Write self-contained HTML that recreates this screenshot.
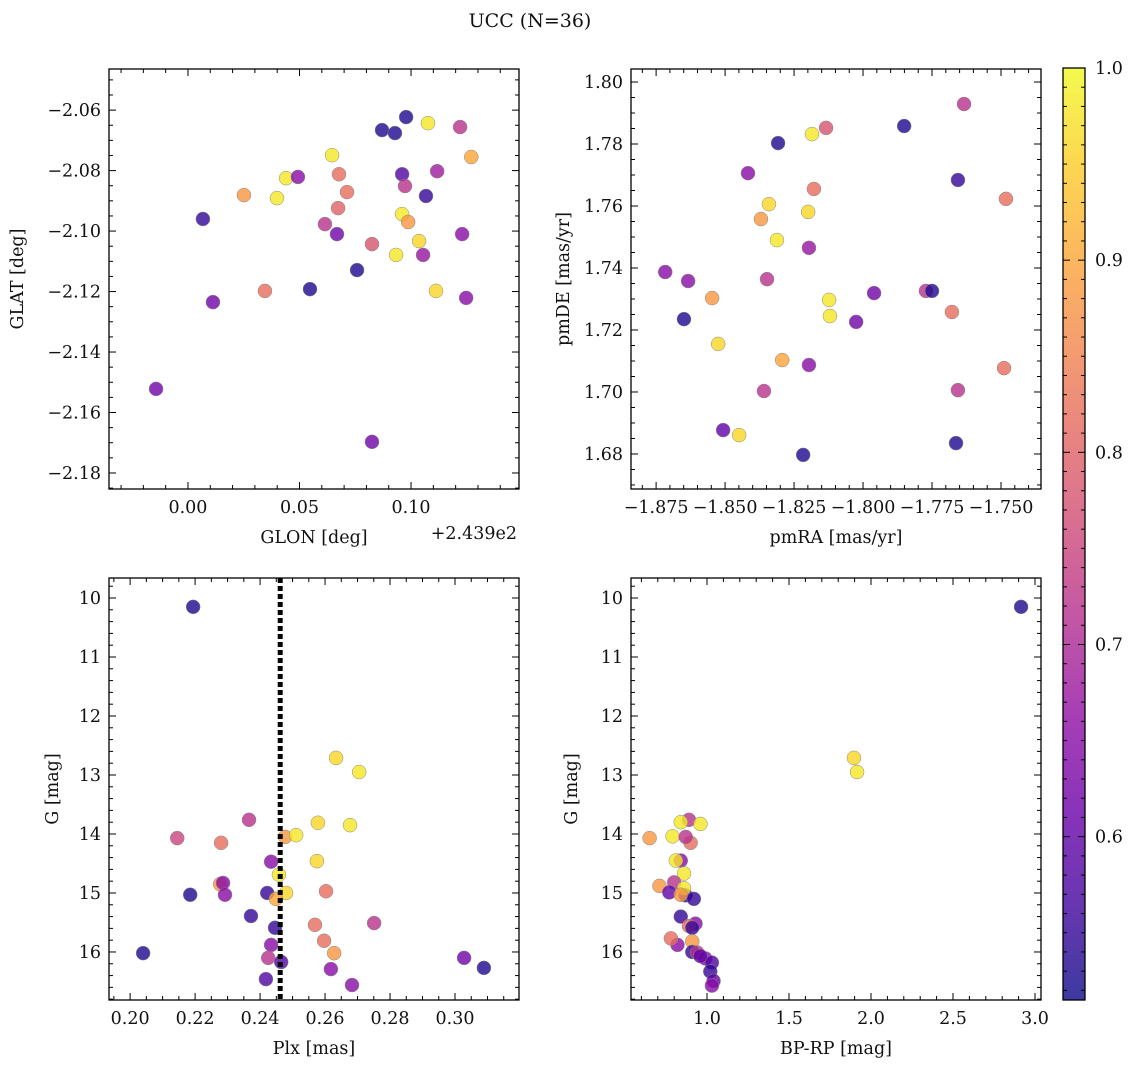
<!DOCTYPE html>
<html><head><meta charset="utf-8">
<style>
body{margin:0;background:#fff;}
svg text{font-family:"DejaVu Serif","Liberation Serif",serif;fill:#111;}
</style></head>
<body>
<svg id="fig" width="1136" height="1068" viewBox="0 0 1136 1068" xmlns="http://www.w3.org/2000/svg">
<rect width="1136" height="1068" fill="#fff"/>
<text x="530" y="27" font-size="19" text-anchor="middle">UCC (N=36)</text>
<defs>
<linearGradient id="cbgrad" x1="0" y1="1" x2="0" y2="0">
<stop offset="0" stop-color="#0d0887"/><stop offset="0.1" stop-color="#41049d"/><stop offset="0.2" stop-color="#6a00a8"/><stop offset="0.3" stop-color="#8f0da4"/><stop offset="0.4" stop-color="#b12a90"/><stop offset="0.5" stop-color="#cc4778"/><stop offset="0.6" stop-color="#e16462"/><stop offset="0.7" stop-color="#f2844b"/><stop offset="0.8" stop-color="#fca636"/><stop offset="0.9" stop-color="#fcce25"/><stop offset="1" stop-color="#f0f921"/>
</linearGradient>
</defs>
<g id="layer"></g>
</svg>
<script>
const glon=[0.0978,0.087,0.0928,0.1076,0.122,0.0646,0.127,0.044,0.0493,0.0677,0.096,0.1117,0.0713,0.0973,0.0251,0.0399,0.1067,0.0673,0.0067,0.096,0.0987,0.0614,0.0668,0.1229,0.1036,0.0825,0.0933,0.1054,0.0758,0.0345,0.0547,0.1112,0.0112,0.1247,-0.0143,0.0825];
const glat=[-2.0623,-2.0666,-2.0676,-2.0643,-2.0656,-2.0749,-2.0755,-2.0825,-2.0821,-2.0812,-2.0812,-2.0802,-2.0871,-2.0851,-2.0881,-2.0891,-2.0884,-2.0924,-2.096,-2.0944,-2.097,-2.0977,-2.101,-2.101,-2.1033,-2.1043,-2.1079,-2.1079,-2.1129,-2.1198,-2.1192,-2.1198,-2.1235,-2.1221,-2.1522,-2.1697];
const probA=[0.53,0.53,0.53,0.98,0.72,0.98,0.9,0.98,0.65,0.82,0.58,0.68,0.82,0.72,0.88,0.98,0.55,0.8,0.55,0.98,0.88,0.72,0.62,0.65,0.96,0.78,0.98,0.67,0.53,0.82,0.53,0.96,0.62,0.65,0.62,0.62];
const pmra=[-1.7634,-1.7851,-1.8134,-1.8185,-1.8308,-1.8417,-1.7656,-1.8178,-1.8341,-1.7482,-1.8199,-1.8370,-1.8312,-1.8196,-1.8717,-1.8634,-1.8348,-1.8547,-1.8123,-1.7960,-1.7772,-1.7750,-1.8649,-1.8120,-1.8025,-1.7678,-1.8525,-1.8293,-1.8196,-1.7489,-1.8359,-1.7656,-1.8507,-1.8449,-1.7663,-1.8217];
const pmde=[1.7929,1.7858,1.7852,1.7832,1.7803,1.7706,1.7684,1.7655,1.7606,1.7623,1.7581,1.7558,1.749,1.7465,1.7387,1.7358,1.7364,1.7303,1.7297,1.7319,1.7326,1.7326,1.7235,1.7245,1.7226,1.7258,1.7155,1.7103,1.7087,1.7077,1.7003,1.7006,1.6877,1.6861,1.6835,1.6797];
const probB=[0.72,0.53,0.78,0.98,0.53,0.65,0.55,0.82,0.96,0.82,0.96,0.88,0.98,0.67,0.65,0.65,0.72,0.88,0.98,0.62,0.72,0.53,0.53,0.98,0.62,0.82,0.96,0.9,0.65,0.82,0.72,0.72,0.6,0.96,0.53,0.53];
const plx=[0.2194,0.2634,0.2705,0.2366,0.2578,0.2677,0.2145,0.2477,0.2511,0.228,0.2575,0.2434,0.2458,0.2277,0.2286,0.2422,0.248,0.2603,0.2292,0.2185,0.2449,0.2372,0.2569,0.2751,0.2446,0.2597,0.2434,0.204,0.2628,0.2425,0.3028,0.2465,0.2618,0.3089,0.2418,0.2683];
const gmagC=[10.15,12.71,12.95,13.76,13.81,13.85,14.07,14.05,14.02,14.15,14.46,14.47,14.69,14.85,14.83,15.0,15.0,14.97,15.03,15.03,15.1,15.39,15.54,15.51,15.59,15.81,15.88,16.02,16.02,16.1,16.1,16.17,16.29,16.27,16.46,16.56];
const probC=[0.53,0.96,0.98,0.72,0.96,0.98,0.75,0.88,0.98,0.82,0.96,0.65,0.98,0.88,0.65,0.55,0.96,0.82,0.65,0.53,0.9,0.55,0.82,0.72,0.55,0.82,0.65,0.53,0.88,0.72,0.62,0.58,0.65,0.53,0.58,0.65];
const plxLine=0.2462;
const bprp=[2.915,1.896,1.915,0.89,0.84,0.96,0.65,0.79,0.90,0.87,0.84,0.81,0.86,0.80,0.71,0.77,0.87,0.86,0.84,0.92,0.93,0.84,0.89,0.91,0.82,0.78,0.91,0.91,0.94,0.99,0.96,1.03,1.02,1.04,1.03];
const gmagD=[10.15,12.71,12.95,13.76,13.80,13.83,14.07,14.04,14.15,14.05,14.45,14.45,14.67,14.82,14.88,14.99,15.04,14.92,15.03,15.10,15.52,15.40,15.56,15.59,15.88,15.77,15.82,16.00,16.01,16.11,16.07,16.18,16.33,16.49,16.57];
const probD=[0.53,0.96,0.98,0.72,0.98,0.98,0.88,0.98,0.82,0.72,0.65,0.98,0.98,0.72,0.88,0.6,0.55,0.98,0.88,0.55,0.65,0.55,0.82,0.55,0.65,0.82,0.88,0.55,0.72,0.65,0.6,0.58,0.55,0.6,0.65];
const cbTicks=[0.6,0.7,0.8,0.9,1.0];

const NS="http://www.w3.org/2000/svg";
const layer=document.getElementById('layer');
const FS=17.5;
function el(tag,attrs,parent){const e=document.createElementNS(NS,tag);for(const k in attrs)e.setAttribute(k,attrs[k]);(parent||layer).appendChild(e);return e;}
const stops=[[0,[13,8,135]],[0.1,[65,4,157]],[0.2,[106,0,168]],[0.3,[143,13,164]],[0.4,[177,42,144]],[0.5,[204,71,120]],[0.6,[225,100,98]],[0.7,[242,132,75]],[0.8,[252,166,54]],[0.9,[252,206,37]],[1,[240,249,33]]];
const cMin=0.515,cMax=1.0;
function cmap(v){let t=(v-cMin)/(cMax-cMin);t=Math.max(0,Math.min(1,t));for(let i=1;i<stops.length;i++){if(t<=stops[i][0]){const a=stops[i-1],b=stops[i];const f=(t-a[0])/(b[0]-a[0]);const c=a[1].map((x,j)=>Math.round(x+(b[1][j]-x)*f));return `rgb(${c[0]},${c[1]},${c[2]})`;}}return 'rgb(240,249,33)';}
function fmt(v,d){let s=v.toFixed(d);if(v<-1e-9)s='\u2212'+s.slice(1);return s;}

function panel(name,box,xd,yd,xt,yt,xl,yl,xs,ys,cs,opt){
  const [L,T,R,B]=box;
  const sx=v=>L+(v-xd[0])/(xd[1]-xd[0])*(R-L);
  const sy=v=>T+(v-yd[0])/(yd[1]-yd[0])*(B-T);
  const g=el('g',{});
  
  
  for(let i=0;i<xs.length;i++){
    const c=el('circle',{cx:sx(xs[i]),cy:sy(ys[i]),r:7,fill:cmap(cs[i]),'fill-opacity':0.8,stroke:'#888','stroke-width':0.5},g);
    
    
  }
  if(opt&&opt.vline!==undefined){
    const ln=el('line',{x1:sx(opt.vline),x2:sx(opt.vline),y1:T,y2:B,stroke:'#000','stroke-width':5,'stroke-dasharray':'5,3'},g);
    
    
  }
  const tk=el('g',{stroke:'#000','stroke-width':1},g);
  
  
  const lo=Math.min(xd[0],xd[1]),hi=Math.max(xd[0],xd[1]);
  for(let k=Math.ceil(lo/xt.minor-1e-6);k*xt.minor<=hi+1e-9;k++){const v=k*xt.minor;const p=sx(v);const maj=Math.abs(v/xt.major-Math.round(v/xt.major))<1e-6;const len=maj?7:4;
    el('line',{x1:p,x2:p,y1:B,y2:B-len},tk);el('line',{x1:p,x2:p,y1:T,y2:T+len},tk);
    if(maj){const t=el('text',{x:p,y:B+24,'font-size':FS,'text-anchor':'middle',stroke:'none'},g);t.textContent=fmt(v,xt.dec);}}
  const ylo=Math.min(yd[0],yd[1]),yhi=Math.max(yd[0],yd[1]);
  for(let k=Math.ceil(ylo/yt.minor-1e-6);k*yt.minor<=yhi+1e-9;k++){const v=k*yt.minor;const p=sy(v);const maj=Math.abs(v/yt.major-Math.round(v/yt.major))<1e-6;const len=maj?7:4;
    el('line',{x1:L,x2:L+len,y1:p,y2:p},tk);el('line',{x1:R,x2:R-len,y1:p,y2:p},tk);
    if(maj){const t=el('text',{x:L-8,y:p+6,'font-size':FS,'text-anchor':'end',stroke:'none'},g);t.textContent=fmt(v,yt.dec);}}
  const fr=el('rect',{x:L,y:T,width:R-L,height:B-T,fill:'none',stroke:'#000','stroke-width':1.3},g);
  
  
  const xlab=el('text',{x:(L+R)/2,y:B+54,'font-size':FS,'text-anchor':'middle'},g);xlab.textContent=xl;
  
  
  const yx=L-(opt&&opt.ylabOff?opt.ylabOff:78);
  const ylab=el('text',{x:yx,y:(T+B)/2,'font-size':FS,'text-anchor':'middle',transform:`rotate(-90 ${yx} ${(T+B)/2})`},g);ylab.textContent=yl;
  
  
  if(opt&&opt.offset){const o=el('text',{x:R-2,y:B+50,'font-size':FS,'text-anchor':'end'},g);o.textContent=opt.offset;
    
    }
}
panel('panel-glon-glat',[109,69,519,489],[-0.0354,0.1484],[-2.0464,-2.1853],{major:0.05,minor:0.01,dec:2},{major:0.02,minor:0.005,dec:2},'GLON [deg]','GLAT [deg]',glon,glat,probA,{offset:'+2.439e2',ylabOff:86});
panel('panel-pm',[631,69,1041,489],[-1.8841,-1.7355],[1.8042,1.6687],{major:0.025,minor:0.005,dec:3},{major:0.02,minor:0.005,dec:2},'pmRA [mas/yr]','pmDE [mas/yr]',pmra,pmde,probB,{ylabOff:62});
panel('panel-plx-g',[109,578,519,1000],[0.1935,0.3197],[9.661,16.814],{major:0.02,minor:0.005,dec:2},{major:1,minor:0.2,dec:0},'Plx [mas]','G [mag]',plx,gmagC,probC,{vline:plxLine,ylabOff:51});
panel('panel-cmd',[631,578,1041,1000],[0.5366,3.0366],[9.661,16.814],{major:0.5,minor:0.1,dec:1},{major:1,minor:0.2,dec:0},'BP-RP [mag]','G [mag]',bprp,gmagD,probD,{ylabOff:54});

const cb=el('g',{});


const CT=68,CB=1000,CL=1063,CR=1085;
el('rect',{x:CL,y:CT,width:CR-CL,height:CB-CT,fill:'url(#cbgrad)','fill-opacity':0.8},cb);
el('rect',{x:CL,y:CT,width:CR-CL,height:CB-CT,fill:'none',stroke:'#000','stroke-width':1.3},cb);
const cy=v=>CB-(v-cMin)/(cMax-cMin)*(CB-CT);
for(let k=52;k<=100;k++){const v=k/100;const p=cy(v);const maj=k%10===0;
  el('line',{x1:CR,x2:CR-(maj?7:4),y1:p,y2:p,stroke:'#000'},cb);el('line',{x1:CL,x2:CL+(maj?7:4),y1:p,y2:p,stroke:'#000'},cb);}
for(const v of cbTicks){const t=el('text',{x:CR+10,y:cy(v)+6,'font-size':FS},cb);t.textContent=v.toFixed(1);
  
  }
</script>
</body></html>
